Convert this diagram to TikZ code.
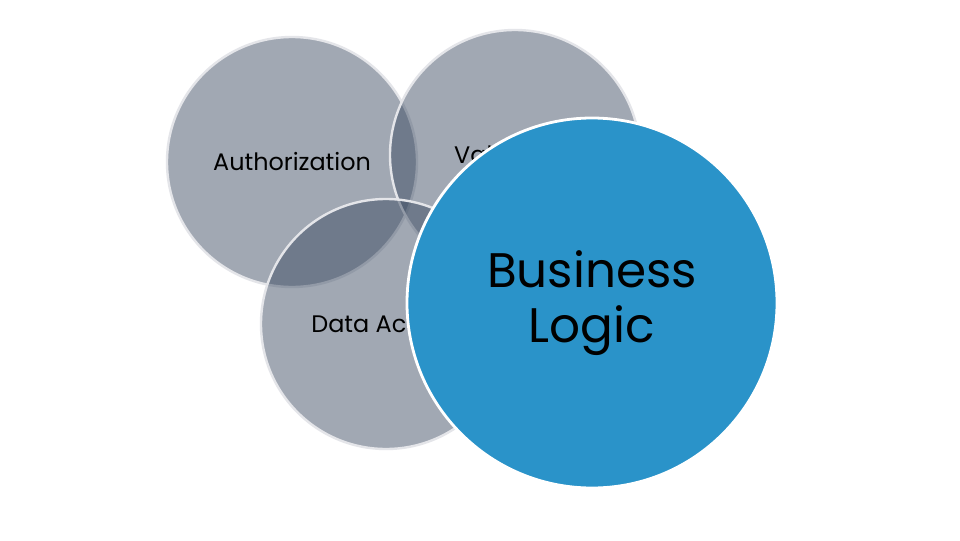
\documentclass[tikz,border=0pt]{standalone}
\usepackage{fontspec}
\setmainfont{Poppins}
\usepackage{tikz}
\usetikzlibrary{positioning}
\usepackage{xcolor}
\definecolor{slate}{HTML}{39485F}
\definecolor{ringgray}{HTML}{E4E5E9}
\definecolor{logicblue}{HTML}{2A93C9}
\tikzset{
  bubble/.style={
    circle, draw=ringgray, line width=0.6mm,
    fill=slate, fill opacity=0.475, draw opacity=1, text opacity=1,
    minimum size=62.5mm, inner sep=0pt,
    align=center, font=\fontsize{17}{20}\selectfont
  },
  corebubble/.style={
    circle, draw=white, line width=0.7mm, fill=logicblue,
    minimum size=92.5mm, inner sep=0pt,
    align=center, font=\fontsize{34.5}{39}\selectfont
  }
}

\begin{document}
\begin{tikzpicture}[x=0.25mm, y=-0.25mm]
  \useasboundingbox[fill=white] (0,0) rectangle (960,540);

  \node[bubble] (auth) at (292,162) {Authorization};
  \node[bubble] (valid) at (515,155) {Validation};
  \node[bubble] (data) at (386,324) {Data Access};

  \node[corebubble] (logic) at (592,303) {Business\\Logic};
\end{tikzpicture}
\end{document}
